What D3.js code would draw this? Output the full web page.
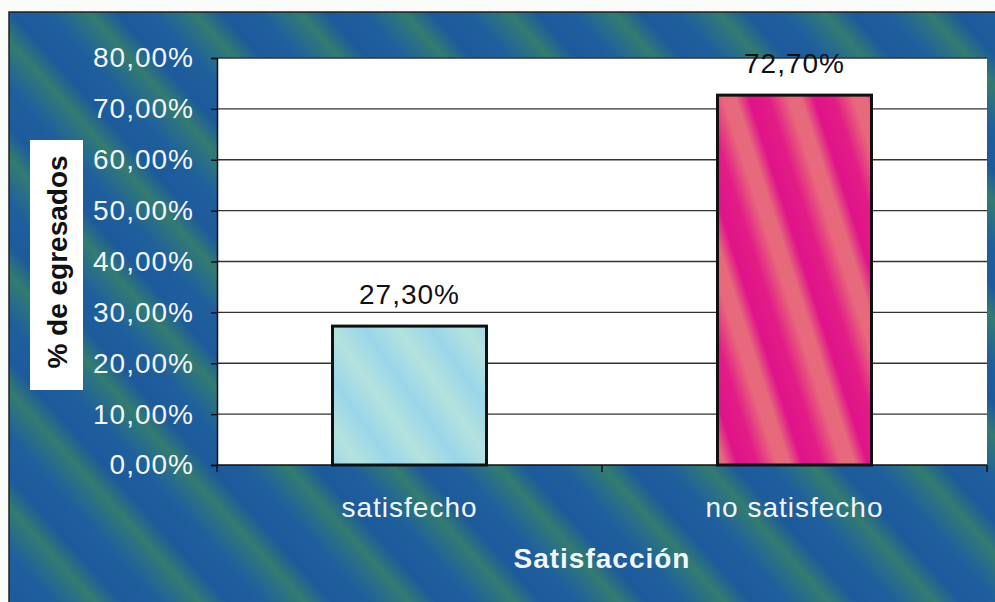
<!DOCTYPE html>
<html lang="es">
  <head>
    <meta charset="utf-8">
    <title>Satisfacción</title>
    <script src="https://cdn.jsdelivr.net/npm/d3@7"></script>
    <style>
      body { margin: 0; background: #fbfbf9; }
      text { font-family: Arial, "Liberation Sans", sans-serif; letter-spacing: 1px; }
    </style>
  </head>
  <body>
  <div id="chart"></div>
  <script>

  // data
  var categories = ["satisfecho", "no satisfecho"];
  var values = [27.3, 72.7];
  var valueLabels = ["27,30%", "72,70%"];
  var yTicks = [0, 10, 20, 30, 40, 50, 60, 70, 80];

  var w = 995;
  var h = 602;
  var plot = {left: 217, top: 58, right: 987, bottom: 465};
  var fontSize = 28;

  var svg = d3.select("#chart")
    .append("svg")
    .attr("width", w)
    .attr("height", h);

  var defs = svg.append("defs");

  // soft diagonal bands, used for background and bars
  function bands(id, period, angle, stops) {
    var g = defs.append("linearGradient")
      .attr("id", id)
      .attr("gradientUnits", "userSpaceOnUse")
      .attr("x1", 0).attr("y1", 0).attr("x2", period).attr("y2", 0)
      .attr("spreadMethod", "repeat")
      .attr("gradientTransform", `rotate(${angle})`);
    stops.forEach(function(s) {
      g.append("stop").attr("offset", s[0]).attr("stop-color", s[1]);
    });
  }

  bands("bgBands", 78, -42, [["0%", "#1d5a9c"], ["35%", "#1f5f9d"], ["60%", "#2b7282"], ["74%", "#347b70"], ["88%", "#276a88"], ["100%", "#1d5a9c"]]);
  bands("cyanBands", 55, -35, [["0%", "#9ad6ea"], ["50%", "#b4e2de"], ["100%", "#9ad6ea"]]);
  bands("pinkBands", 62, -18, [["0%", "#e0138a"], ["30%", "#e21c86"], ["60%", "#e8687c"], ["80%", "#e66a7c"], ["100%", "#e0138a"]]);

  // outer frame
  svg.append("rect")
    .attr("x", 9)
    .attr("y", 12)
    .attr("width", w)
    .attr("height", h)
    .attr("fill", "url(#bgBands)")
    .attr("stroke", "#222")
    .attr("stroke-width", 1.5);

  // plot area
  svg.append("rect")
    .attr("x", plot.left)
    .attr("y", plot.top)
    .attr("width", plot.right - plot.left)
    .attr("height", plot.bottom - plot.top)
    .attr("fill", "#ffffff");

  var xScale = d3.scaleBand()
    .domain(categories)
    .range([plot.left, plot.right])
    .paddingInner(0.6)
    .paddingOuter(0.3);

  var yScale = d3.scaleLinear()
    .domain([0, 80])
    .range([plot.bottom, plot.top]);

  // gridlines
  svg.append("g")
    .selectAll("line")
    .data(yTicks.slice(1))
    .enter().append("line")
    .attr("x1", plot.left)
    .attr("x2", plot.right)
    .attr("y1", d => yScale(d))
    .attr("y2", d => yScale(d))
    .attr("stroke", "#333")
    .attr("stroke-width", 1.3);

  // bars
  var fills = ["url(#cyanBands)", "url(#pinkBands)"];
  svg.append("g")
    .selectAll("rect")
    .data(values)
    .enter().append("rect")
    .attr("x", (d, i) => xScale(categories[i]))
    .attr("y", d => yScale(d))
    .attr("width", xScale.bandwidth())
    .attr("height", d => plot.bottom - yScale(d))
    .attr("fill", (d, i) => fills[i])
    .attr("stroke", "#111")
    .attr("stroke-width", 3);

  // value labels
  svg.append("g")
    .selectAll("text")
    .data(values)
    .enter().append("text")
    .attr("x", (d, i) => xScale(categories[i]) + xScale.bandwidth() / 2)
    .attr("y", d => yScale(d) - 22)
    .attr("text-anchor", "middle")
    .attr("font-size", fontSize)
    .attr("fill", "#111")
    .text((d, i) => valueLabels[i]);

  // y axis
  var yAxis = d3.axisLeft(yScale)
    .tickValues(yTicks)
    .tickSize(6)
    .tickPadding(17)
    .tickFormat(d => d3.format(".2f")(d).replace(".", ",") + "%");

  var yG = svg.append("g")
    .attr("transform", `translate(${plot.left},0)`)
    .call(yAxis);
  yG.select(".domain").attr("stroke", "#111").attr("stroke-width", 1.5);
  yG.selectAll(".tick line").attr("stroke", "#111").attr("stroke-width", 1.5);
  yG.selectAll(".tick text")
    .attr("fill", "#f2f6f6")
    .attr("font-size", fontSize)
    .attr("font-family", "Arial, 'Liberation Sans', sans-serif");

  // x axis
  var xPos = d3.scalePoint().domain(categories).range([plot.left, plot.right]).padding(0.5);
  var xG = svg.append("g")
    .attr("transform", `translate(0,${plot.bottom})`);
  xG.append("line")
    .attr("x1", plot.left).attr("x2", plot.right)
    .attr("stroke", "#111").attr("stroke-width", 1.5);
  xG.selectAll(".tk")
    .data([plot.left, (plot.left + plot.right) / 2, plot.right])
    .enter().append("line")
    .attr("x1", d => d).attr("x2", d => d)
    .attr("y1", 0).attr("y2", 7)
    .attr("stroke", "#111").attr("stroke-width", 1.5);
  xG.selectAll("text")
    .data(categories)
    .enter().append("text")
    .attr("x", d => xPos(d))
    .attr("y", 52)
    .attr("text-anchor", "middle")
    .attr("font-size", fontSize)
    .attr("fill", "#f2f6f6")
    .text(d => d);

  // axis titles
  svg.append("text")
    .attr("x", (plot.left + plot.right) / 2)
    .attr("y", 568)
    .attr("text-anchor", "middle")
    .attr("font-size", fontSize)
    .attr("font-weight", "bold")
    .attr("fill", "#f2f6f6")
    .text("Satisfacción");

  svg.append("rect")
    .attr("x", 30)
    .attr("y", 140)
    .attr("width", 53)
    .attr("height", 250)
    .attr("fill", "#ffffff");

  svg.append("text")
    .attr("transform", "translate(67,262) rotate(-90)")
    .attr("text-anchor", "middle")
    .attr("font-size", fontSize)
    .attr("font-weight", "bold")
    .attr("fill", "#111")
    .style("letter-spacing", "0px")
    .text("% de egresados");

  </script>
  </body>
</html>
